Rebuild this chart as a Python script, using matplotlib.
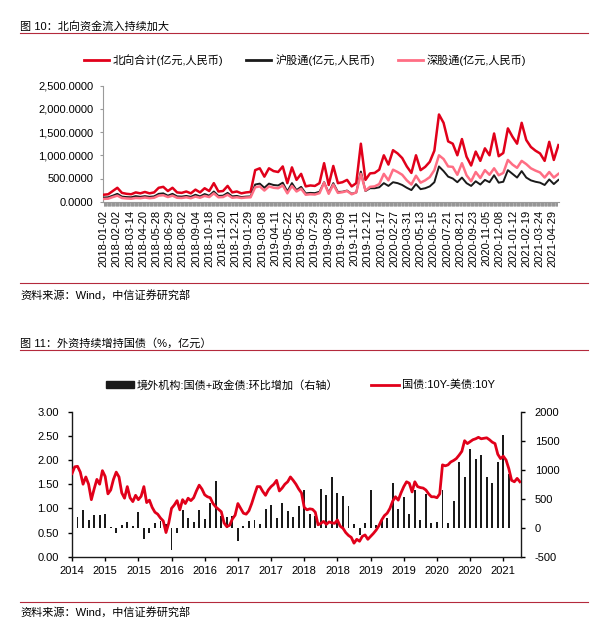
import numpy as np
import matplotlib
matplotlib.use('Agg')
import matplotlib.pyplot as plt
from matplotlib.lines import Line2D
from matplotlib.patches import Rectangle
from matplotlib.ticker import FuncFormatter

plt.rcParams['font.family'] = ['Liberation Sans', 'Noto Sans CJK SC']
plt.rcParams['axes.unicode_minus'] = False

# ---------------- Chart 1 data: northbound turnover (sampled every 8 trading days) -------------
flow_dates = ['2018-01-02', '2018-02-02', '2018-03-14', '2018-04-20', '2018-05-28', '2018-06-29',
              '2018-08-02', '2018-09-04', '2018-10-18', '2018-11-20', '2018-12-21', '2019-01-29',
              '2019-03-08', '2019-04-11', '2019-05-22', '2019-06-25', '2019-07-29', '2019-08-29',
              '2019-10-09', '2019-11-11', '2019-12-12', '2020-01-17', '2020-02-27', '2020-03-31',
              '2020-05-13', '2020-06-15', '2020-07-21', '2020-08-21', '2020-09-23', '2020-11-05',
              '2020-12-08', '2021-01-12', '2021-02-19', '2021-03-24', '2021-04-29']
label_step_days = 23
sample_step_days = 8
total_days = 790

north_total = [150, 160, 230, 300, 190, 170, 160, 200, 180, 210,
               180, 200, 300, 320, 230, 300, 200, 190, 220, 180,
               260, 200, 290, 230, 400, 220, 230, 340, 200, 220,
               180, 200, 210, 680, 720, 540, 720, 660, 640, 760,
               400, 740, 470, 600, 330, 350, 340, 400, 830, 360,
               770, 400, 420, 470, 330, 400, 1250, 470, 610, 620,
               690, 1000, 800, 1110, 1040, 940, 760, 620, 1000, 680,
               750, 860, 1100, 1880, 1700, 1300, 1250, 1000, 1350, 970,
               780, 1080, 880, 1150, 1000, 1470, 980, 1050, 1580, 1400,
               1250, 1700, 1330, 1180, 1100, 1040, 880, 1290, 900, 1220]
sh_connect = [90, 95, 130, 170, 110, 100, 95, 120, 105, 120,
              105, 115, 170, 180, 130, 170, 115, 110, 125, 105,
              150, 115, 165, 130, 220, 125, 130, 190, 115, 125,
              100, 110, 115, 370, 390, 300, 390, 360, 350, 410,
              220, 400, 250, 320, 180, 190, 185, 215, 420, 190,
              400, 210, 215, 240, 170, 200, 650, 230, 290, 290,
              310, 400, 340, 420, 400, 360, 300, 250, 380, 270,
              290, 330, 420, 760, 660, 540, 500, 420, 520, 400,
              340, 440, 370, 470, 420, 570, 410, 430, 680, 600,
              520, 660, 520, 460, 430, 410, 360, 480, 380, 470]
sz_connect = [60, 65, 100, 130, 80, 70, 65, 80, 75, 90,
              75, 85, 130, 140, 100, 130, 85, 80, 95, 75,
              110, 85, 125, 100, 180, 95, 100, 150, 85, 95,
              80, 90, 95, 310, 330, 240, 330, 300, 290, 350,
              180, 340, 220, 280, 150, 160, 155, 185, 410, 170,
              370, 190, 205, 230, 160, 200, 600, 240, 320, 330,
              380, 600, 460, 690, 640, 580, 460, 370, 560, 410,
              460, 530, 680, 1000, 920, 760, 750, 580, 830, 570,
              440, 640, 510, 680, 580, 720, 570, 620, 900, 800,
              730, 880, 810, 720, 670, 630, 520, 640, 520, 600]
flow_names = ['北向合计(亿元,人民币)', '沪股通(亿元,人民币)', '深股通(亿元,人民币)']

# ---------------- Chart 2 data --------------------------------------------------------------
# monthly bars from 2014-07, semi-monthly spread line
bond_labels = ['2014', '2015', '2015', '2016', '2016', '2017', '2017', '2018', '2018',
               '2019', '2019', '2020', '2020', '2021']
foreign_add = [50, 187, 312, 125, 221, 221, 238, 20, -97, 40,
               97, 28, 273, -193, -97, 85, 114, 60, -392, -97,
               312, 165, 97, 312, 142, 426, 800, 200, 187, 210,
               -227, 30, 114, 125, 68, 320, 395, 160, 420, 280,
               176, 380, 642, 244, 204, 670, 557, 880, 596, 540,
               369, 57, -120, 74, 642, 45, 130, 160, 767, 330,
               530, 233, 642, 130, 574, 74, 90, 653, 85, 460,
               1125, 870, 1363, 1193, 1250, 870, 767, 1125, 1590, 930]
spread = [1.72, 1.86, 1.87, 1.75, 1.50, 1.65, 1.50, 1.18, 1.40, 1.60,
          1.50, 1.78, 1.66, 1.30, 1.38, 1.60, 1.75, 1.65, 1.32, 1.21,
          1.45, 1.22, 1.14, 1.27, 1.18, 1.25, 1.45, 1.12, 1.17, 1.02,
          0.92, 0.88, 0.80, 0.74, 0.50, 0.70, 1.00, 1.07, 1.16, 0.97,
          1.18, 1.10, 1.21, 1.16, 1.22, 1.36, 1.48, 1.40, 1.28, 1.24,
          1.22, 1.10, 1.03, 0.98, 0.93, 0.70, 0.62, 0.65, 0.78, 0.86,
          1.10, 1.00, 0.90, 0.88, 0.95, 1.10, 1.28, 1.45, 1.45, 1.35,
          1.27, 1.38, 1.45, 1.50, 1.58, 1.36, 1.42, 1.50, 1.55, 1.65,
          1.58, 1.50, 1.40, 1.32, 1.02, 0.97, 0.99, 0.98, 0.92, 0.66,
          0.69, 0.73, 0.67, 0.72, 0.70, 0.69, 0.76, 0.63, 0.59, 0.50,
          0.44, 0.40, 0.28, 0.36, 0.32, 0.42, 0.45, 0.36, 0.42, 0.48,
          0.55, 0.64, 0.76, 0.85, 0.90, 1.00, 1.15, 1.24, 1.17, 1.32,
          1.45, 1.55, 1.52, 1.34, 1.55, 1.45, 1.43, 1.42, 1.38, 1.30,
          1.24, 1.24, 1.22, 1.30, 1.90, 1.88, 1.90, 1.96, 1.99, 2.03,
          2.10, 2.18, 2.40, 2.34, 2.38, 2.42, 2.44, 2.47, 2.44, 2.45,
          2.46, 2.42, 2.37, 2.34, 2.12, 2.03, 2.08, 2.00, 1.82, 1.58,
          1.55, 1.62, 1.55]
bond_names = ['境外机构:国债+政金债:环比增加（右轴）', '国债:10Y-美债:10Y']

# ---------------- figure ----------------------------------------------------------------------
W, H = 606, 627
fig = plt.figure(figsize=(W / 100, H / 100), dpi=100)


def fx(px):
    return px / W


def fy(py):
    return 1 - py / H


RULE = '#B42A3C'
RED = '#E1001A'
PINK = '#FF6E84'
BLACK = '#1A1A1A'
GRAY = '#9A9A9A'
FS = 8

# titles / rules / sources
fig.text(fx(20), fy(26), '图 10：北向资金流入持续加大', fontsize=FS, va='center', ha='left')
fig.add_artist(Line2D([fx(20), fx(588)], [fy(32.5), fy(32.5)], color=RULE, lw=0.8))
fig.add_artist(Line2D([fx(20), fx(588)], [fy(283), fy(283)], color=RULE, lw=0.8))
fig.text(fx(20), fy(295), '资料来源：Wind，中信证券研究部', fontsize=FS, va='center', ha='left')

fig.text(fx(20), fy(343), '图 11：外资持续增持国债（%，亿元）', fontsize=FS, va='center', ha='left')
fig.add_artist(Line2D([fx(20), fx(588)], [fy(350), fy(350)], color=RULE, lw=0.8))
fig.add_artist(Line2D([fx(20), fx(588)], [fy(602), fy(602)], color=RULE, lw=0.8))
fig.text(fx(20), fy(612.7), '资料来源：Wind，中信证券研究部', fontsize=FS, va='center', ha='left')

# ---------------- chart 1 ----------------
ax1 = fig.add_axes([fx(102.7), fy(201.7), fx(559) - fx(102.7), fy(85.7) - fy(201.7)])
xd = np.arange(len(north_total)) * sample_step_days
ax1.plot(xd, north_total, color=RED, lw=1.8, zorder=3)
ax1.plot(xd, sh_connect, color=BLACK, lw=1.4, zorder=4)
ax1.plot(xd, sz_connect, color=PINK, lw=1.8, zorder=5)
ax1.set_xlim(-1.5, total_days + 3)
ax1.set_ylim(0, 2500)
ax1.set_yticks([0, 500, 1000, 1500, 2000, 2500])
ax1.yaxis.set_major_formatter(FuncFormatter(lambda v, p: f'{v:,.4f}'))
ax1.set_xticks(np.arange(len(flow_dates)) * label_step_days)
ax1.set_xticklabels(flow_dates, rotation=90)
ax1.set_xticks(np.arange(0, total_days + 1), minor=True)
for s in ['top', 'right']:
    ax1.spines[s].set_visible(False)
ax1.spines['left'].set_color(GRAY)
ax1.spines['left'].set_linewidth(0.8)
ax1.spines['bottom'].set_color(GRAY)
ax1.spines['bottom'].set_linewidth(0.8)
ax1.tick_params(axis='y', direction='out', length=2.5, width=0.8, color=GRAY, pad=4, labelsize=FS)
ax1.tick_params(axis='x', which='both', direction='out', length=3, width=0.5, color='#8C8C8C',
                pad=3, labelsize=FS)

h1 = [Line2D([], [], color=RED, lw=2), Line2D([], [], color=BLACK, lw=2),
      Line2D([], [], color=PINK, lw=2)]
fig.legend(h1, flow_names, loc='center', bbox_to_anchor=(fx(305), fy(60)), ncol=3,
           frameon=False, fontsize=FS, handlelength=2.25, handletextpad=0.35,
           columnspacing=2.1, borderpad=0, borderaxespad=0)

# ---------------- chart 2 ----------------
ax2 = fig.add_axes([fx(72), fy(556.7), fx(521) - fx(72), fy(411.7) - fy(556.7)])
ax2r = ax2.twinx()
months = np.arange(len(foreign_add))
ax2r.bar(months, foreign_add, width=0.35, color=BLACK, zorder=2)
line_x = np.arange(len(spread)) * 0.5
ax2.plot(line_x, spread, color=RED, lw=2.0, zorder=5)
ax2.set_zorder(ax2r.get_zorder() + 1)
ax2.patch.set_visible(False)

ax2.set_xlim(0, 81.2)
ax2.set_ylim(0, 3)
ax2.set_yticks([0, 0.5, 1, 1.5, 2, 2.5, 3])
ax2.yaxis.set_major_formatter(FuncFormatter(lambda v, p: f'{v:.2f}'))
ax2r.set_ylim(-500, 2000)
ax2r.set_yticks([-500, 0, 500, 1000, 1500, 2000])
ax2r.yaxis.set_major_formatter(FuncFormatter(lambda v, p: f'{int(v)}'))
ax2.set_xticks(np.arange(len(bond_labels)) * 6)
ax2.set_xticklabels(bond_labels)

for a in (ax2, ax2r):
    a.spines['top'].set_visible(False)
    for s in ['left', 'right', 'bottom']:
        a.spines[s].set_color(BLACK)
        a.spines[s].set_linewidth(1.0)
ax2.spines['right'].set_visible(False)
ax2r.spines['left'].set_visible(False)
ax2r.spines['bottom'].set_visible(False)
ax2.tick_params(axis='y', direction='out', length=3, width=1, pad=6.5, labelsize=FS)
ax2.tick_params(axis='x', direction='out', length=3, width=1, pad=4, labelsize=FS)
ax2r.tick_params(axis='y', direction='out', length=3, width=1, pad=7, labelsize=FS)

h2 = [Rectangle((0, 0), 1, 1, color=BLACK), Line2D([], [], color=RED, lw=2)]
fig.legend(h2, bond_names, loc='center', bbox_to_anchor=(fx(300.5), fy(385)), ncol=2,
           frameon=False, fontsize=FS, handlelength=2.5, handleheight=0.5, handletextpad=0.3,
           columnspacing=2.9, borderpad=0, borderaxespad=0)

fig.savefig('out.png', dpi=100)
